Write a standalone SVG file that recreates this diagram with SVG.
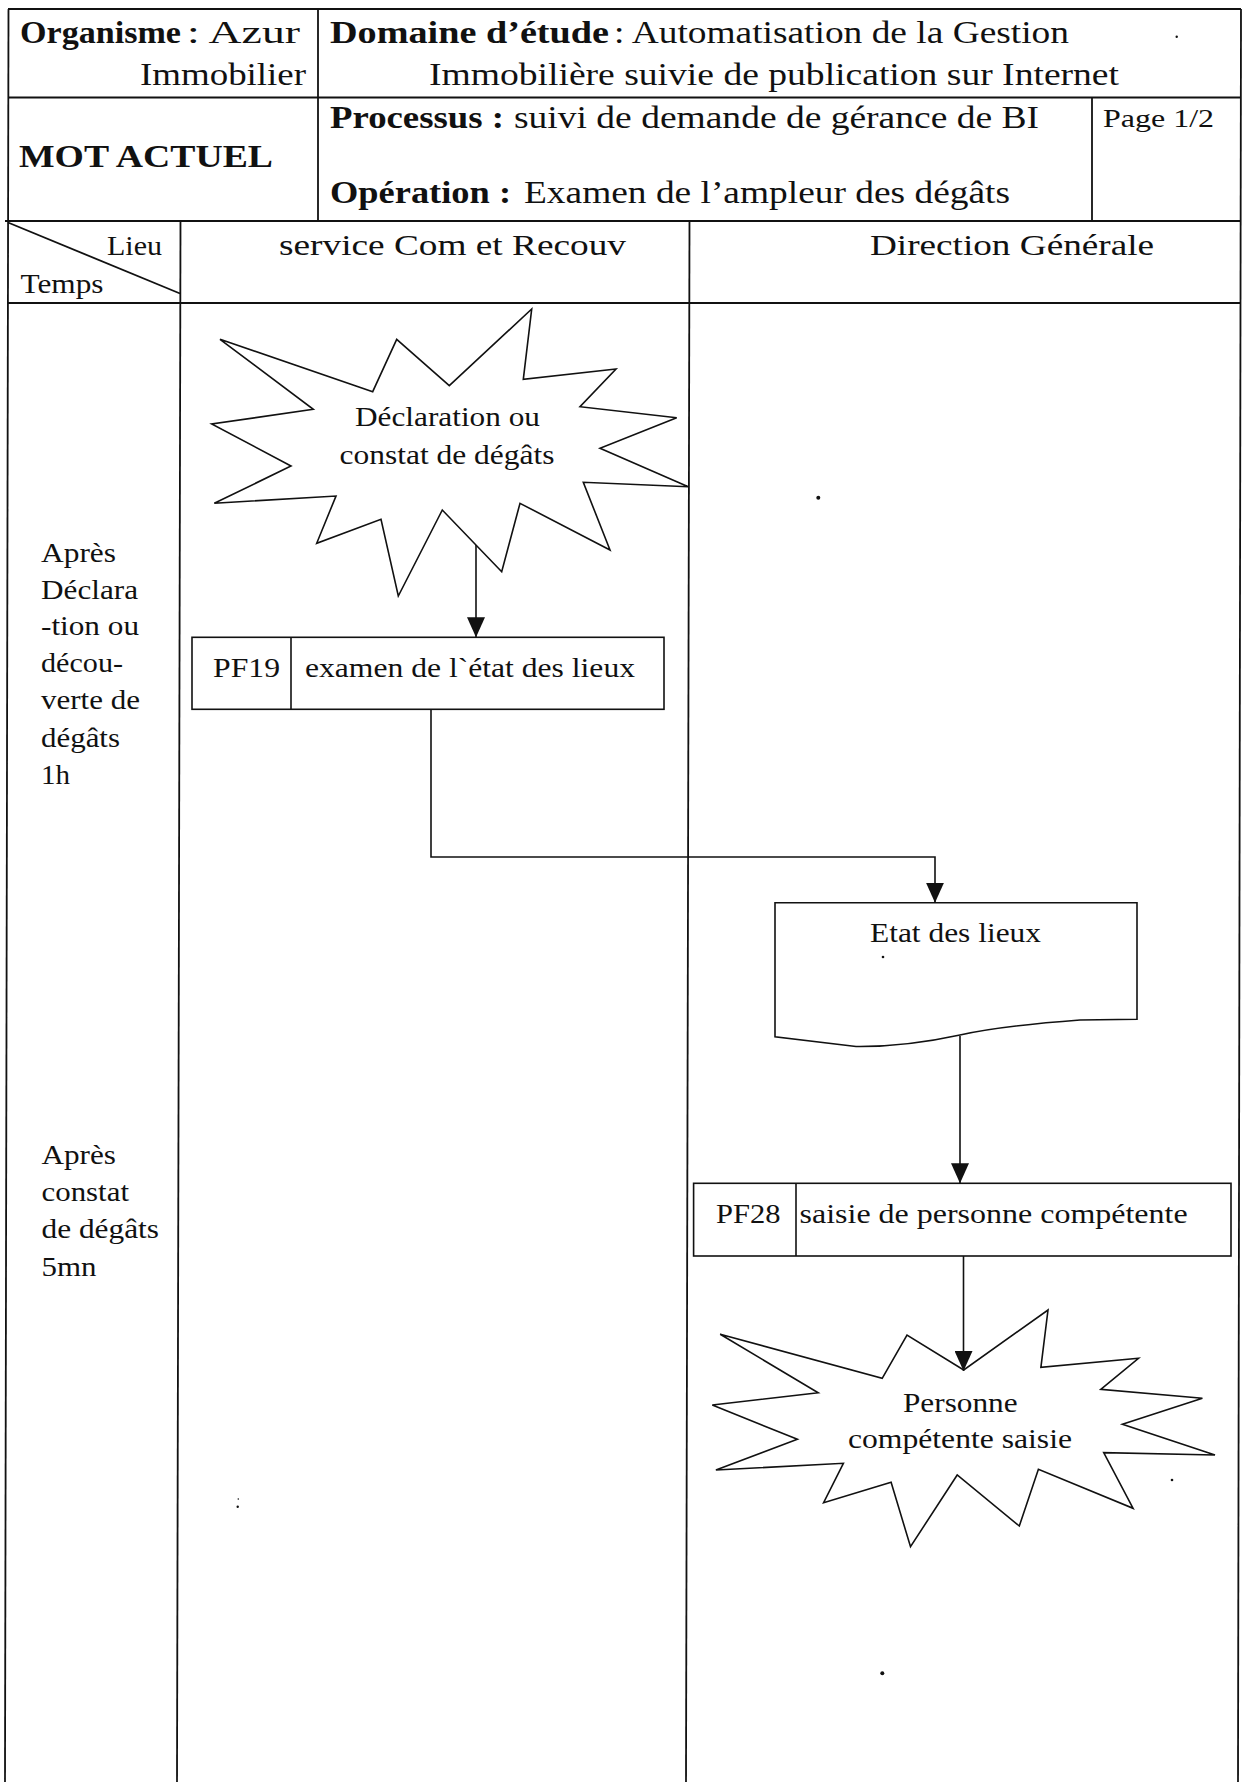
<svg xmlns="http://www.w3.org/2000/svg" width="1243" height="1782" viewBox="0 0 1243 1782">
  <style>
    text { font-family: "Liberation Serif", "Times New Roman", serif; fill: #111; }
    .hd { font-size: 32px; }
    .b { font-weight: bold; }
    .sm { font-size: 25px; }
    .ln { font-size: 30px; }
    .lt { font-size: 27px; }
    .tx { font-size: 27px; }
    .grid { stroke: #111; stroke-width: 1.8; fill: none; }
    .shape { stroke: #111; stroke-width: 1.6; fill: #fff; }
    .conn { stroke: #111; stroke-width: 1.6; fill: none; }
    .dot { fill: #111; }
  </style>
  <defs>
    <marker id="arrow" viewBox="0 0 20 18" refX="20" refY="9" markerWidth="20" markerHeight="18" markerUnits="userSpaceOnUse" orient="auto">
      <path d="M0,0 L20,9 L0,18 z" fill="#111"/>
    </marker>
  </defs>

  <rect width="1243" height="1782" fill="#fff"/>

  <!-- frame: header rows, lane header and swimlane separators -->
  <g id="frame" class="grid">
    <line x1="8" y1="9" x2="1241" y2="9"/>
    <line x1="8" y1="97.5" x2="1241" y2="97.5"/>
    <line x1="5" y1="221" x2="1241" y2="221"/>
    <line x1="8" y1="303" x2="1241" y2="303"/>
    <line x1="8.5" y1="9" x2="5" y2="1782"/>
    <line x1="1241" y1="9" x2="1238" y2="1782"/>
    <line x1="318" y1="9" x2="318" y2="221"/>
    <line x1="1092" y1="97.5" x2="1092" y2="221"/>
    <line x1="180.5" y1="221" x2="177" y2="1782"/>
    <line x1="689.5" y1="221" x2="686" y2="1782"/>
    <line x1="8" y1="222.5" x2="180" y2="293.5"/>
  </g>

  <!-- header texts -->
  <g id="header">
    <text class="hd b" x="20" y="43" textLength="161" lengthAdjust="spacingAndGlyphs">Organisme</text>
    <text class="hd" x="187" y="43" textLength="113" lengthAdjust="spacingAndGlyphs">: Azur</text>
    <text class="hd" x="140" y="85" textLength="166" lengthAdjust="spacingAndGlyphs">Immobilier</text>
    <text class="hd b" x="330" y="43" textLength="279" lengthAdjust="spacingAndGlyphs">Domaine d’étude</text>
    <text class="hd" x="614" y="43" textLength="455" lengthAdjust="spacingAndGlyphs">: Automatisation de la Gestion</text>
    <text class="hd" x="429" y="85" textLength="690" lengthAdjust="spacingAndGlyphs">Immobilière suivie de publication sur Internet</text>
    <text class="hd b" x="19" y="167" textLength="254" lengthAdjust="spacingAndGlyphs">MOT ACTUEL</text>
    <text class="hd b" x="330" y="128" textLength="174" lengthAdjust="spacingAndGlyphs">Processus :</text>
    <text class="hd" x="514" y="128" textLength="525" lengthAdjust="spacingAndGlyphs">suivi de demande de gérance de BI</text>
    <text class="hd b" x="330" y="203" textLength="181" lengthAdjust="spacingAndGlyphs">Opération :</text>
    <text class="hd" x="524" y="203" textLength="486" lengthAdjust="spacingAndGlyphs">Examen de l’ampleur des dégâts</text>
    <text class="sm" x="1103" y="127" textLength="111" lengthAdjust="spacingAndGlyphs">Page 1/2</text>
    <text class="lt" x="107" y="255" textLength="55" lengthAdjust="spacingAndGlyphs">Lieu</text>
    <text class="lt" x="20.5" y="293" textLength="83" lengthAdjust="spacingAndGlyphs">Temps</text>
    <text class="ln" x="279" y="255" textLength="347" lengthAdjust="spacingAndGlyphs">service Com et Recouv</text>
    <text class="ln" x="870" y="255" textLength="284" lengthAdjust="spacingAndGlyphs">Direction Générale</text>
  </g>

  <!-- time column -->
  <g id="time-1">
    <text class="tx" x="41" y="562" textLength="75" lengthAdjust="spacingAndGlyphs">Après</text>
    <text class="tx" x="41" y="599" textLength="97" lengthAdjust="spacingAndGlyphs">Déclara</text>
    <text class="tx" x="41" y="635" textLength="98" lengthAdjust="spacingAndGlyphs">-tion ou</text>
    <text class="tx" x="41" y="672" textLength="82" lengthAdjust="spacingAndGlyphs">décou-</text>
    <text class="tx" x="41" y="709" textLength="99" lengthAdjust="spacingAndGlyphs">verte de</text>
    <text class="tx" x="41" y="747" textLength="79" lengthAdjust="spacingAndGlyphs">dégâts</text>
    <text class="tx" x="41" y="784" textLength="29" lengthAdjust="spacingAndGlyphs">1h</text>
  </g>
  <g id="time-2">
    <text class="tx" x="41.5" y="1164" textLength="74.5" lengthAdjust="spacingAndGlyphs">Après</text>
    <text class="tx" x="41.5" y="1201" textLength="87.5" lengthAdjust="spacingAndGlyphs">constat</text>
    <text class="tx" x="41.5" y="1238" textLength="117.5" lengthAdjust="spacingAndGlyphs">de dégâts</text>
    <text class="tx" x="41.5" y="1276" textLength="55" lengthAdjust="spacingAndGlyphs">5mn</text>
  </g>

  <!-- event: declaration -->
  <g id="event-declaration">
    <polygon class="shape" points="220,339.3 372.7,391.7 396.7,339.3 449.3,385.7 531.7,309 523.3,379.3 616,369 580,406.7 676.7,417.7 600,448.3 688.3,486.7 583.3,482.3 610,550 520,503.3 501.7,571.7 442.3,510 398.3,596 381,519.3 316.7,543.3 336,496 214.3,503.3 291,466 211.7,424 313.3,409.3"/>
    <text class="tx" x="355" y="426" textLength="185" lengthAdjust="spacingAndGlyphs">Déclaration ou</text>
    <text class="tx" x="339.5" y="464" textLength="215" lengthAdjust="spacingAndGlyphs">constat de dégâts</text>
  </g>

  <!-- task PF19 -->
  <g id="task-pf19">
    <rect class="shape" x="192" y="637.3" width="472" height="72"/>
    <line class="conn" x1="291" y1="637.3" x2="291" y2="709.3"/>
    <text class="tx" x="213" y="677" textLength="67" lengthAdjust="spacingAndGlyphs">PF19</text>
    <text class="tx" x="305" y="677" textLength="330" lengthAdjust="spacingAndGlyphs">examen de l`état des lieux</text>
  </g>

  <!-- document: etat des lieux -->
  <g id="doc-etat">
    <path class="shape" d="M775,902.7 H1137 V1019.3 L1080,1020 Q1000,1026 960,1035 Q905,1047 856,1046.5 L775,1036.7 Z"/>
    <text class="tx" x="870" y="942" textLength="171" lengthAdjust="spacingAndGlyphs">Etat des lieux</text>
  </g>

  <!-- task PF28 -->
  <g id="task-pf28">
    <rect class="shape" x="693.6" y="1183.3" width="537.4" height="72.7"/>
    <line class="conn" x1="796" y1="1183.3" x2="796" y2="1256"/>
    <text class="tx" x="716" y="1223" textLength="64.5" lengthAdjust="spacingAndGlyphs">PF28</text>
    <text class="tx" x="799.6" y="1223" textLength="388" lengthAdjust="spacingAndGlyphs">saisie de personne compétente</text>
  </g>

  <!-- event: person entered -->
  <g id="event-personne">
    <polygon class="shape" points="720.2,1334.3 882.2,1378.3 907,1335 963.7,1370 1048,1310 1040.9,1367.3 1138.5,1358.3 1100.8,1389.3 1202.4,1398.3 1122.4,1424.3 1215,1455 1103.7,1452.7 1133.1,1508.3 1038.4,1469.3 1019.3,1526 957.2,1475 910.5,1546.7 891.1,1482.3 823.6,1502.7 843.4,1463.3 715.9,1470 797.4,1439.3 712.3,1405 818.2,1392.7"/>
    <text class="tx" x="903" y="1411.7" textLength="114.5" lengthAdjust="spacingAndGlyphs">Personne</text>
    <text class="tx" x="848" y="1448.3" textLength="224" lengthAdjust="spacingAndGlyphs">compétente saisie</text>
  </g>

  <!-- connectors -->
  <g id="connectors">
    <path class="conn" d="M476,545 V637.3" marker-end="url(#arrow)"/>
    <path class="conn" d="M431,709.3 V857 H935 V902.7" marker-end="url(#arrow)"/>
    <path class="conn" d="M960,1036 V1183.3" marker-end="url(#arrow)"/>
    <path class="conn" d="M963.5,1256 V1371" marker-end="url(#arrow)"/>
  </g>

  <!-- stray marks -->
  <g id="marks">
    <circle class="dot" cx="1176.7" cy="36.7" r="1.2"/>
    <circle class="dot" cx="818.3" cy="497.7" r="2"/>
    <circle class="dot" cx="883" cy="957" r="1.3"/>
    <circle class="dot" cx="1172" cy="1480" r="1.3"/>
    <circle class="dot" cx="237.7" cy="1506.7" r="1.2"/>
    <circle class="dot" cx="238.3" cy="1499" r="0.8"/>
    <circle class="dot" cx="882.3" cy="1673.3" r="2"/>
  </g>
</svg>
